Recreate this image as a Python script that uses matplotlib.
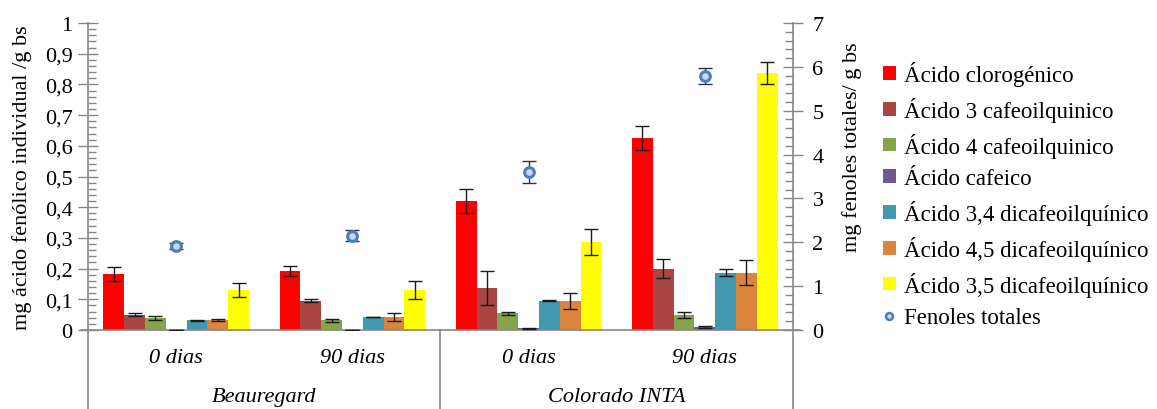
import matplotlib
matplotlib.use("Agg")
import matplotlib.pyplot as plt
import numpy as np
from matplotlib.patches import Patch
from matplotlib.lines import Line2D
from matplotlib.ticker import MultipleLocator, FuncFormatter

plt.rcParams["font.family"] = ["Liberation Serif", "DejaVu Serif"]
plt.rcParams["font.size"] = 16

# ---------------------------------------------------------------------------
# Data
# ---------------------------------------------------------------------------
days = ["0 dias", "90 dias", "0 dias", "90 dias"]
varieties = ["Beauregard", "Colorado INTA"]

series = [
    "Ácido clorogénico",
    "Ácido 3 cafeoilquinico",
    "Ácido 4 cafeoilquinico",
    "Ácido cafeico",
    "Ácido 3,4 dicafeoilquínico",
    "Ácido 4,5 dicafeoilquínico",
    "Ácido 3,5 dicafeoilquínico",
]
colors = ["#FF0000", "#A94643", "#86A44A", "#71588F",
          "#4198AF", "#DB843D", "#FFFF00"]

clorogenico = [0.183, 0.193, 0.420, 0.625]
cafeoil_3 = [0.049, 0.095, 0.137, 0.200]
cafeoil_4 = [0.039, 0.031, 0.055, 0.049]
cafeico = [0.0, 0.0, 0.005, 0.011]
dicafeoil_34 = [0.032, 0.042, 0.095, 0.187]
dicafeoil_45 = [0.032, 0.042, 0.095, 0.187]
dicafeoil_35 = [0.130, 0.130, 0.286, 0.837]

err_clorogenico = [0.022, 0.016, 0.038, 0.038]
err_cafeoil_3 = [0.005, 0.005, 0.055, 0.032]
err_cafeoil_4 = [0.005, 0.005, 0.005, 0.011]
err_cafeico = [0.0, 0.0, 0.001, 0.003]
err_dicafeoil_34 = [0.002, 0.001, 0.002, 0.012]
err_dicafeoil_45 = [0.004, 0.012, 0.025, 0.042]
err_dicafeoil_35 = [0.023, 0.029, 0.042, 0.035]

fenoles_totales = [1.91, 2.15, 3.61, 5.80]
err_fenoles = [0.07, 0.13, 0.25, 0.18]

values = [clorogenico, cafeoil_3, cafeoil_4, cafeico,
          dicafeoil_34, dicafeoil_45, dicafeoil_35]
errors = [err_clorogenico, err_cafeoil_3, err_cafeoil_4, err_cafeico,
          err_dicafeoil_34, err_dicafeoil_45, err_dicafeoil_35]

# ---------------------------------------------------------------------------
# Plot
# ---------------------------------------------------------------------------
fig = plt.figure(figsize=(11.57, 4.10), dpi=100)
ax = fig.add_axes([88 / 1157, 79 / 410, 705 / 1157, 307 / 410])
ax2 = ax.twinx()

x = np.arange(len(days))
w = 0.118
for i, (vals, errs, col) in enumerate(zip(values, errors, colors)):
    ax.bar(x + (i - 3) * w, vals, width=w, color=col, zorder=2)
    ax.errorbar(x + (i - 3) * w, vals, yerr=errs, fmt="none",
                ecolor="#1a1a1a", elinewidth=1, capsize=5, capthick=1,
                zorder=3)

# total phenolics on the secondary axis
ax2.errorbar(x, fenoles_totales, yerr=err_fenoles, fmt="none",
             ecolor="#333333", elinewidth=1, capsize=5, capthick=1,
             zorder=3)
ax2.plot(x, fenoles_totales, ls="none", marker="o", ms=7, mew=2.2,
         mfc="#C6D9F1", mec="#4A7EBB", zorder=4)

ax.set_xlim(-0.5, len(days) - 0.5)
ax.set_ylim(0, 1)
ax2.set_ylim(0, 7)

gray = "#868686"
fmt_comma = FuncFormatter(lambda v, p: f"{v:g}".replace(".", ","))
ax.yaxis.set_major_locator(MultipleLocator(0.1))
ax.yaxis.set_minor_locator(MultipleLocator(0.02))
ax.yaxis.set_major_formatter(fmt_comma)
ax2.yaxis.set_major_locator(MultipleLocator(1))
ax2.yaxis.set_minor_locator(MultipleLocator(0.2))

for a in (ax, ax2):
    a.tick_params(axis="y", which="major", direction="inout", length=14,
                  width=1, color=gray, labelsize=16, pad=4)
    a.tick_params(axis="y", which="minor", direction="in", length=6,
                  width=1, color=gray)
    for s in a.spines.values():
        s.set_visible(False)
ax.set_xticks([])
ax2.set_xticks([])
ax2.tick_params(axis="y", which="major", pad=7)

# axis lines, extended below into the category label area
line_kw = dict(transform=ax.transAxes, color=gray, lw=1.2, clip_on=False)
ax.plot([-0.01, 1.01], [0, 0], **line_kw)
ax.plot([0, 0], [-0.257, 1], **line_kw)
ax.plot([1, 1], [-0.257, 1], **line_kw)
ax.plot([0.5, 0.5], [-0.257, 0], **line_kw)

for xi, lab in zip(x, days):
    ax.text(xi, -0.09, lab, transform=ax.get_xaxis_transform(),
            ha="center", va="center", style="italic", fontsize=16)
for k, lab in enumerate(varieties):
    ax.text(0.5 + 2 * k, -0.215, lab, transform=ax.get_xaxis_transform(),
            ha="center", va="center", style="italic", fontsize=16)

ax.set_ylabel("mg ácido fenólico individual /g bs", fontsize=16, labelpad=9)
ax2.set_ylabel("mg fenoles totales/ g bs", fontsize=16)
ax2.yaxis.set_label_coords(1.07, 0.6)

handles = [Patch(facecolor=c, edgecolor="none") for c in colors]
handles.append(Line2D([], [], ls="none", marker="o", ms=5, mew=1.8,
                      mfc="#C6D9F1", mec="#4A7EBB"))
fig.legend(handles, series + ["Fenoles totales"], loc="upper left",
           bbox_to_anchor=(883 / 1157, 1 - 62 / 410), frameon=False,
           fontsize=16.5, handlelength=0.55, handleheight=0.55,
           handletextpad=0.35, labelspacing=0.47, borderpad=0,
           borderaxespad=0)

fig.savefig("out.png", dpi=100, facecolor="white")
